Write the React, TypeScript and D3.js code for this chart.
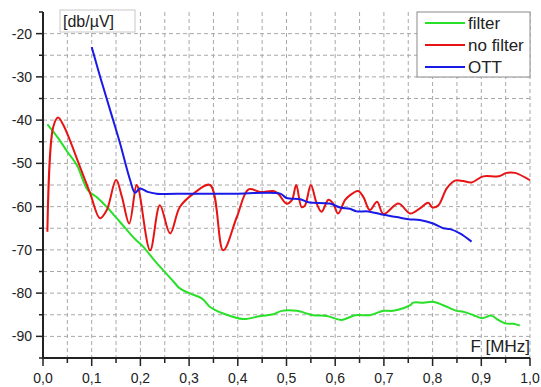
import React from "react";
import * as d3 from "d3";

const filterX = [0.009, 0.03, 0.05, 0.07, 0.092, 0.11, 0.131, 0.15, 0.17, 0.19, 0.206, 0.23, 0.25, 0.27, 0.281, 0.3, 0.326, 0.343, 0.37, 0.411, 0.446, 0.473, 0.49, 0.521, 0.555, 0.583, 0.613, 0.641, 0.671, 0.699, 0.719, 0.754, 0.76, 0.781, 0.801, 0.822, 0.849, 0.863, 0.884, 0.901, 0.921, 0.932, 0.949, 0.966, 0.979];
const filterY = [-41, -44, -47.3, -50.5, -56.2, -57.8, -60.1, -62.5, -65.1, -67.6, -69.3, -72.6, -75.1, -77.6, -78.9, -80, -81.2, -83.2, -84.7, -86.0, -85.3, -84.9, -84.1, -84.1, -85.1, -85.3, -86.2, -85.1, -85.1, -84.1, -84.1, -82.8, -82.2, -82.2, -82.0, -82.8, -84.1, -84.3, -85.1, -85.8, -85.2, -86.0, -87.0, -87.1, -87.5];

const noFilterX = [0.009, 0.021, 0.031, 0.042, 0.076, 0.097, 0.117, 0.131, 0.15, 0.162, 0.177, 0.192, 0.196, 0.22, 0.24, 0.261, 0.281, 0.309, 0.343, 0.37, 0.398, 0.422, 0.446, 0.473, 0.483, 0.5, 0.511, 0.52, 0.531, 0.538, 0.55, 0.562, 0.572, 0.586, 0.596, 0.606, 0.62, 0.63, 0.647, 0.658, 0.671, 0.686, 0.699, 0.73, 0.754, 0.774, 0.791, 0.8, 0.812, 0.829, 0.846, 0.863, 0.88, 0.904, 0.935, 0.952, 0.969, 1.0];
const noFilterY = [-65.8, -41.6, -39.4, -41.2, -50.8, -57.0, -62.7, -60.8, -53.8, -57.7, -63.9, -55.0, -55.8, -70.1, -59.7, -66.2, -60.1, -57.0, -55.0, -70.1, -62.4, -56.0, -56.6, -56.4, -57.0, -59.3, -58.5, -55.0, -60.1, -59.7, -55.0, -59.3, -61.2, -58.4, -59.3, -61.6, -58.5, -57.4, -56.4, -57.8, -60.8, -58.9, -61.7, -59.3, -61.6, -60.4, -59.1, -60.2, -59.7, -55.8, -54.0, -54.1, -54.4, -53.0, -53.0, -52.2, -52.2, -53.9];

const ottX = [0.1, 0.12, 0.14, 0.158, 0.179, 0.189, 0.199, 0.215, 0.233, 0.3, 0.4, 0.487, 0.5, 0.528, 0.545, 0.589, 0.61, 0.63, 0.644, 0.668, 0.699, 0.726, 0.75, 0.774, 0.801, 0.822, 0.836, 0.856, 0.88];
const ottY = [-23.1, -31, -38.5, -45.3, -53.9, -56.8, -55.8, -56.6, -57.0, -57.0, -57.0, -57.0, -58.0, -58.3, -59.0, -59.3, -60.2, -60.5, -61.1, -61.1, -61.9, -62.4, -62.9, -63.1, -63.9, -65.0, -65.2, -66.2, -68.1];

const seriesNames = ["filter", "no filter", "OTT"];
const seriesColors = ["#28e028", "#e61414", "#1a1ae6"];
const xTickLabels = ["0,0", "0,1", "0,2", "0,3", "0,4", "0,5", "0,6", "0,7", "0,8", "0,9", "1,0"];
const yTicks = [-90, -80, -70, -60, -50, -40, -30, -20];

export default function App() {
  const W = 541, H = 387;
  const x = d3.scaleLinear().domain([0, 1]).range([43, 530]);
  const y = d3.scaleLinear().domain([-95, -15]).range([358, 12]);
  const line = d3.line<[number, number]>()
    .x((d) => x(d[0]))
    .y((d) => y(d[1]))
    .curve(d3.curveCatmullRom.alpha(0.5));
  const mk = (xs: number[], ys: number[]) => xs.map((v, i) => [v, ys[i]] as [number, number]);
  const series = [mk(filterX, filterY), mk(noFilterX, noFilterY), mk(ottX, ottY)];

  const xGrid = d3.range(1, 21).map((i) => i * 0.05);
  const yGrid = d3.range(-90, -15, 5);
  const xMinor = d3.range(0, 21).map((i) => i * 0.05);
  const yMinor = d3.range(-95, -10, 5);
  const font = "Arial, 'Liberation Sans', sans-serif";

  return (
    <svg width={W} height={H} style={{ position: "absolute", left: 0, top: 0, background: "#fff" }} fontFamily={font}>
      <rect x={0} y={0} width={W} height={H} fill="#fff" />
      {xGrid.map((v, i) => (
        <line key={"gx" + i} x1={x(v)} x2={x(v)} y1={y(-15)} y2={y(-95)} stroke="#a8a8a8" strokeDasharray="4,3" strokeWidth={1} />
      ))}
      {yGrid.map((v, i) => (
        <line key={"gy" + i} x1={x(0)} x2={x(1)} y1={y(v)} y2={y(v)} stroke="#a8a8a8" strokeDasharray="4,3" strokeWidth={1} />
      ))}
      {series.map((s, i) => (
        <path key={"s" + i} d={line(s) || ""} fill="none" stroke={seriesColors[i]} strokeWidth={2} strokeLinejoin="round" />
      ))}
      <line x1={x(0)} x2={x(0)} y1={y(-15)} y2={y(-95) + 1} stroke="#222" strokeWidth={2} />
      <line x1={x(0) - 1} x2={x(1)} y1={y(-95)} y2={y(-95)} stroke="#222" strokeWidth={2} />
      {yMinor.map((v, i) => (
        <line key={"yt" + i} x1={x(0)} x2={x(0) - (v % 10 === 0 ? 7 : 4)} y1={y(v)} y2={y(v)} stroke="#222" strokeWidth={1.5} />
      ))}
      {xMinor.map((v, i) => (
        <line key={"xt" + i} x1={x(v)} x2={x(v)} y1={y(-95)} y2={y(-95) + (i % 2 === 0 ? 8 : 5)} stroke="#222" strokeWidth={1.5} />
      ))}
      {yTicks.map((v, i) => (
        <text key={"yl" + i} x={32} y={y(v) + 5} textAnchor="end" fontSize={14} fill="#222">{v}</text>
      ))}
      {xTickLabels.map((t, i) => (
        <text key={"xl" + i} x={x(i / 10)} y={383} textAnchor="middle" fontSize={14} fill="#222">{t}</text>
      ))}
      <rect x={60} y={10} width={75} height={22} fill="#fff" stroke="#c8c8c8" strokeWidth={1} />
      <text x={63} y={27} fontSize={16} fill="#222">[db/µV]</text>
      <text x={530} y={352} textAnchor="end" fontSize={17} fill="#222">F [MHz]</text>
      <rect x={417} y={12} width={113} height={65} fill="#fff" stroke="#8a8a8a" strokeWidth={1} />
      {seriesNames.map((n, i) => (
        <g key={"lg" + i}>
          <line x1={425} x2={465} y1={23 + i * 22} y2={23 + i * 22} stroke={seriesColors[i]} strokeWidth={2} />
          <text x={468} y={29 + i * 22} fontSize={17} fill="#222">{n}</text>
        </g>
      ))}
    </svg>
  );
}
